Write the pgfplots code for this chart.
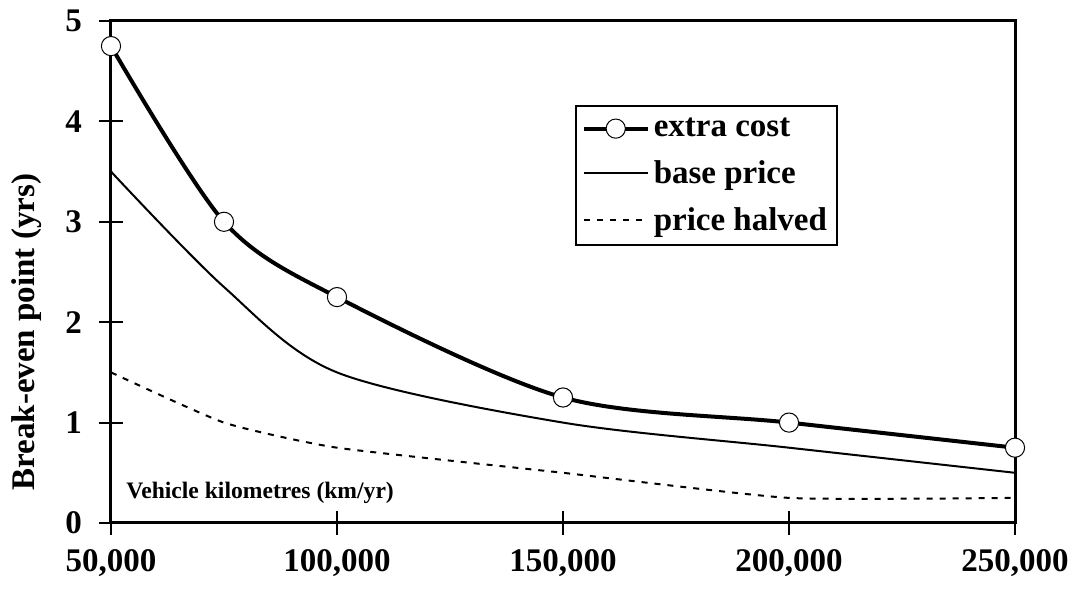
\documentclass[border=0pt]{standalone}
\usepackage{fontspec}
\setmainfont{Liberation Serif}
\usepackage{pgfplots}
\pgfplotsset{compat=1.18}
\pgfplotstableread{
x y
50000 4.75
75000 3.0
100000 2.25
150000 1.25
200000 1.0
250000 0.75
}\extracost
\pgfplotstableread{
x y
50000 3.5
75000 2.35
100000 1.5
150000 1.0
200000 0.75
250000 0.5
}\baseprice
\pgfplotstableread{
x y
50000 1.5
75000 1.0
100000 0.75
150000 0.5
200000 0.25
250000 0.25
}\pricehalved
\begin{document}
\begin{tikzpicture}
\useasboundingbox (-55.5pt,-34.5pt) rectangle (484.5pt,261.5pt);
\begin{axis}[
  scale only axis,
  width=452pt, height=251pt,
  xmin=50000, xmax=250000, ymin=0, ymax=5,
  axis line style={line width=1.5pt},
  scaled x ticks=false,
  xtick={50000,100000,150000,200000,250000},
  xticklabels={{50,000},{100,000},{150,000},{200,000},{250,000}},
  ytick={0,1,2,3,4,5},
  xtick pos=left, ytick pos=left,
  tick align=center,
  major tick length=12pt,
  tick style={line width=1pt, black},
  /pgf/number format/assume math mode=true,
  ticklabel style={font=\fontsize{16.5}{20}\selectfont\bfseries},
  xticklabel shift=3.5pt,
  yticklabel shift=5pt,
  xlabel={Vehicle kilometres (km/yr)},
  xlabel style={at={(axis description cs:0.0166,0.048)}, anchor=base west, inner sep=0pt, font=\fontsize{11.8}{14}\selectfont\bfseries},
  ylabel={Break-even point (yrs)},
  ylabel style={at={(axis description cs:-0.093,0.38)}, anchor=center, rotate=0, font=\fontsize{16.5}{19}\selectfont\bfseries},
  legend style={at={(0.513,0.833)}, anchor=north west, draw=black, line width=1pt,
    font=\fontsize{16.5}{20}\selectfont\bfseries, row sep=6.5pt, inner xsep=3pt, inner ysep=4pt},
  legend cell align=left,
  legend image code/.code={\draw[mark repeat=2,mark phase=2,#1] plot coordinates {(0pt,0pt) (16pt,0pt) (32pt,0pt)};},
  clip=false,
]
\addplot[black, line width=2pt, smooth, tension=0.5, mark=*, mark size=4.8pt,
  mark options={fill=white, draw=black, line width=0.5pt, solid}] table[x=x,y=y] {\extracost};
\addlegendentry{extra cost}
\addplot[black, line width=1pt, smooth, tension=0.5] table[x=x,y=y] {\baseprice};
\addlegendentry{base price}
\addplot[black, line width=1pt, smooth, tension=0.3, dash pattern=on 3pt off 3.5pt] table[x=x,y=y] {\pricehalved};
\addlegendentry{price halved}
\end{axis}
\end{tikzpicture}
\end{document}
